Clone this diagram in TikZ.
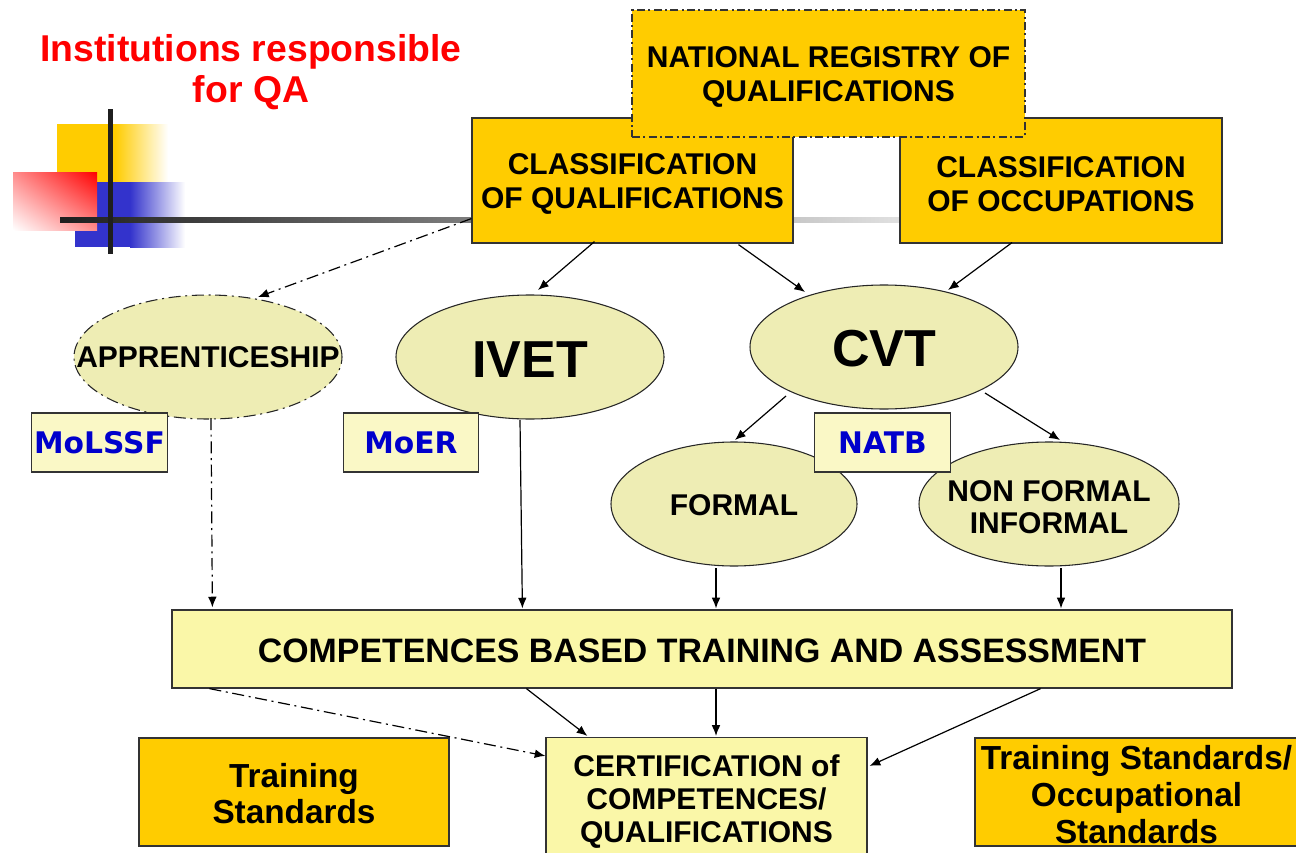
\documentclass[tikz,border=0pt]{standalone}
\usepackage{fontspec}
\setmainfont{Liberation Sans}
\newfontfamily\comicf{DejaVu Sans}
\usetikzlibrary{shapes.geometric,arrows.meta,calc,shadings}
\definecolor{gold}{RGB}{255,204,0}
\definecolor{khaki}{RGB}{238,237,180}
\definecolor{paleY}{RGB}{250,248,198}
\definecolor{compY}{RGB}{250,247,168}
\definecolor{lblue}{RGB}{0,0,204}
\definecolor{dkblue}{RGB}{51,51,204}
\begin{document}
\begin{tikzpicture}[x=0.75pt,y=-0.75pt,
  every node/.style={font=\bfseries\fontsize{22.5}{25.5}\selectfont, align=center, inner sep=0pt},
  goldbox/.style={rectangle, draw=black!80, line width=0.9pt, fill=gold},
  compbox/.style={rectangle, draw=black!80, line width=0.9pt, fill=compY},
  lblbox/.style={rectangle, draw=black!80, line width=0.9pt, fill=paleY, minimum width=101.5pt, minimum height=44.25pt,
     font=\comicf\bfseries\fontsize{22.3}{24}\selectfont, text=lblue},
  oval/.style={ellipse, draw=black!85, line width=0.8pt, fill=khaki},
  dashdot/.style={dash pattern=on 9pt off 3.5pt on 1.5pt off 3.5pt},
  boxdash/.style={dash pattern=on 6pt off 2.5pt on 1.5pt off 2.5pt},
  arr/.style={-{Latex[length=8pt,width=6.5pt]}, line width=0.9pt, draw=black},
]
\useasboundingbox[fill=white] (0,0) rectangle (1296,853);

% decoration
\fill[gold] (57,124) rectangle (115,182);
\shade[left color=gold, right color=white] (115,124) rectangle (168,182);
\fill[dkblue] (75,182) rectangle (130,247);
\shade[left color=dkblue, right color=white] (130,182) rectangle (185,247);
\shade[upper right=red, lower left=white, upper left=red!45!white, lower right=red!45!white] (13,172) rectangle (97,230);
\shade[left color=black!88, right color=black!12] (60,217) rectangle (900,222);
\fill[black!88] (108,109) rectangle (113,254);

% title
\node[text=red, font=\bfseries\fontsize{28}{30.75}\selectfont] (title) at (251,72) {Institutions responsible\\for QA};

% top boxes
\node[goldbox, minimum width=240.75pt, minimum height=93.75pt,
  label={[yshift=-2.4pt]center:{CLASSIFICATION\\OF QUALIFICATIONS}}] (classQ) at (632.5,180.5) {};
\node[goldbox, minimum width=241.5pt, minimum height=93.75pt,
  label={[yshift=-2.4pt]center:{CLASSIFICATION\\OF OCCUPATIONS}}] (classO) at (1061,180.5) {};
\node[goldbox, boxdash, minimum width=294.75pt, minimum height=95.25pt,
  label={[yshift=-2.6pt]center:{NATIONAL REGISTRY OF\\QUALIFICATIONS}}] (natreg) at (828.5,73.5) {};

% ellipses
\node[oval, dashdot, minimum width=201pt, minimum height=93pt,
  label={center:APPRENTICESHIP}] (appr) at (208,357) {};
\node[oval, minimum width=201pt, minimum height=93pt,
  label={[font=\bfseries\fontsize{39}{44}\selectfont, yshift=-2pt]center:IVET}] (ivet) at (530,357) {};
\node[oval, minimum width=201pt, minimum height=93pt,
  label={[font=\bfseries\fontsize{39}{44}\selectfont, yshift=-1pt]center:CVT}] (cvt) at (884,347) {};
\node[oval, minimum width=184.5pt, minimum height=93pt,
  label={[yshift=-1pt]center:FORMAL}] (formal) at (734,504) {};
\node[oval, minimum width=195pt, minimum height=93pt,
  label={[font=\bfseries\fontsize{22.5}{24}\selectfont, yshift=-2.2pt]center:{NON FORMAL\\INFORMAL}}] (nonf) at (1049,504) {};

% institution labels
\node[lblbox] (molssf) at (99.5,442.5) {MoLSSF};
\node[lblbox] (moer) at (411,442.5) {MoER};
\node[lblbox] (natb) at (882.5,442.5) {NATB};

% lower boxes
\node[compbox, minimum width=795pt, minimum height=58.5pt,
  label={[font=\bfseries\fontsize{25.4}{28}\selectfont, yshift=-1.2pt]center:{COMPETENCES BASED TRAINING AND ASSESSMENT}}] (comp) at (702,649) {};
\node[compbox, minimum width=240.75pt, minimum height=93.75pt,
  label={[font=\bfseries\fontsize{22.5}{24.75}\selectfont, yshift=-1.2pt]center:{CERTIFICATION of\\COMPETENCES/\\QUALIFICATIONS}}] (cert) at (706.5,800) {};
\node[goldbox, minimum width=232.5pt, minimum height=81pt,
  label={[font=\bfseries\fontsize{25}{27}\selectfont, yshift=-1.5pt]center:{Training\\Standards}}] (ts) at (294,792) {};
\node[goldbox, minimum width=242.25pt, minimum height=81pt,
  label={[font=\bfseries\fontsize{25}{27.75}\selectfont, yshift=-2pt]center:{Training Standards/\\Occupational\\Standards}}] (tso) at (1136.5,792) {};

% connectors
\draw[arr, dashdot] ($(classQ.south west)+(0,-25)$) -- ($(appr.center)+(50,-60)$);
\draw[arr] ($(classQ.south)+(-38,-2)$) -- ($(ivet.center)+(8,-67)$);
\draw[arr] ($(classQ.south)+(106,1)$) -- ($(cvt.center)+(-79,-55)$);
\draw[arr] ($(classO.south)+(-49,-1)$) -- ($(cvt.center)+(64,-57)$);
\draw[arr, dashdot] ($(appr.center)+(3,61)$) -- ($(comp.north west)+(41,-2)$);
\draw[arr] ($(ivet.center)+(-10,63)$) -- ($(comp.north west)+(351,-1)$);
\draw[arr] ($(cvt.center)+(-98,49)$) -- ($(formal.center)+(1,-64)$);
\draw[arr] ($(cvt.center)+(101,46)$) -- ($(nonf.center)+(11,-64)$);
\coordinate (f1) at ($(formal.center)+(-18,64)$);
\coordinate (n1) at ($(nonf.center)+(12,64)$);
\draw[arr] (f1) -- ($(f1 |- comp.north)+(0,-1)$);
\draw[arr] (n1) -- ($(n1 |- comp.north)+(0,-1)$);
\draw[arr, dashdot] ($(comp.south west)+(38,0)$) -- ($(cert.north west)+(0,19)$);
\draw[arr] ($(comp.south west)+(355,0)$) -- ($(cert.north west)+(42,-1)$);
\draw[arr] ($(comp.south)+(14,0)$) -- ($(cert.north)+(9.5,-1)$);
\draw[arr] ($(comp.south east)+(-192,0)$) -- ($(cert.north east)+(2,29)$);
\end{tikzpicture}
\end{document}
